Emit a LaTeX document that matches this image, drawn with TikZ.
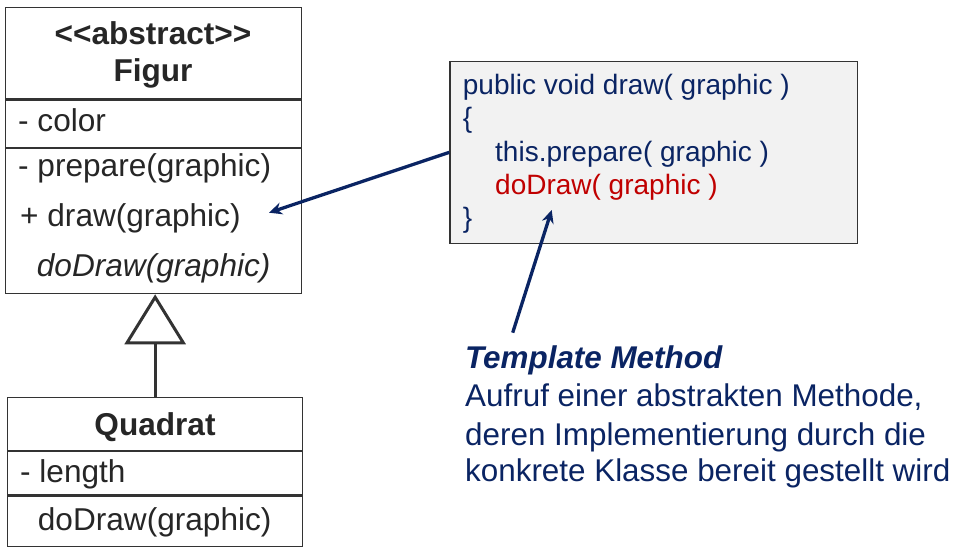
\documentclass[tikz,border=0pt]{standalone}
\usepackage{fontspec}
\setmainfont{Liberation Sans}
\usetikzlibrary{arrows.meta}
\definecolor{umltext}{HTML}{262626}
\definecolor{umlline}{HTML}{333333}
\definecolor{navy}{HTML}{0A2463}
\definecolor{codered}{HTML}{C00000}
\definecolor{codebg}{HTML}{F2F2F2}
\begin{document}
\begin{tikzpicture}[x=1pt,y=-1pt,
  box/.style={draw=umlline,line width=1.3pt,inner sep=0pt,anchor=north west},
  divider/.style={draw=umlline,line width=2.5pt},
  uml/.style={anchor=base west,inner sep=0pt,text=umltext,font=\fontsize{31.6}{37}\selectfont},
  umltitle/.style={anchor=base,inner sep=0pt,text=umltext,font=\bfseries\fontsize{31.6}{37}\selectfont},
  umlitalic/.style={uml,font=\itshape\fontsize{31.6}{37}\selectfont},
  code/.style={anchor=base west,inner sep=0pt,text=navy,font=\fontsize{28}{33}\selectfont},
  note/.style={anchor=base west,inner sep=0pt,text=navy,font=\fontsize{31.4}{37}\selectfont},
  notehead/.style={note,font=\bfseries\itshape\fontsize{31.4}{37}\selectfont},
  codebox/.style={draw=umlline,fill=codebg,line width=1.3pt,inner sep=0pt,anchor=north west},
  pointer/.style={draw=navy,line width=3.3pt,-{Stealth[length=13pt,width=12pt]}},
  inherit/.style={draw=umlline,line width=3pt,-{Triangle[open,length=50pt,width=61pt]}}]
\useasboundingbox (0,0) rectangle (958,559);

% Figur class
\node[box,minimum width=296pt,minimum height=286pt] (figur) at (5,7) {};
\draw[divider] (5,99.3) -- (301,99.3);
\draw[divider] (5,148) -- (301,148);
\node[umltitle] (figst) at (153,45) {<{}<abstract>{}>};
\node[umltitle] (figname) at (153,81.7) {Figur};
\node[uml] (figattr) at (18,131.7) {- color};
\node[uml] (figm1) at (18,176.7) {- prepare(graphic)};
\node[uml] (figm2) at (20,226.7) {+ draw(graphic)};
\node[umlitalic] (figm3) at (36.7,276.7) {doDraw(graphic)};

% Quadrat class
\node[box,minimum width=295pt,minimum height=149pt] (quadrat) at (7,397) {};
\draw[divider] (7,451) -- (302,451);
\draw[divider] (7,495.7) -- (302,495.7);
\node[umltitle] (qname) at (155,435) {Quadrat};
\node[uml] (qattr) at (20,482.7) {- length};
\node[uml] (qm1) at (37.7,530) {doDraw(graphic)};

% inheritance
\draw[inherit] (quadrat.north) -- (quadrat.north |- figur.south);

% code box
\node[codebox,minimum width=407.7pt,minimum height=182pt] (code) at (449.3,60.7) {};
\node[code] (l1) at (462.7,95) {public void draw( graphic )};
\node[code] (l2) at (462.7,128) {\{};
\node[code] (l3) at (495,161) {this.prepare( graphic )};
\node[code,text=codered] (l4) at (495,194) {doDraw( graphic )};
\node[code] (l5) at (462.7,227) {\}};

% note
\node[notehead] (tm) at (465,368) {Template Method};
\node[note] (n1) at (465,406.7) {Aufruf einer abstrakten Methode,};
\node[note] (n2) at (465,445) {deren Implementierung durch die};
\node[note] (n3) at (465,481.7) {konkrete Klasse bereit gestellt wird};

% pointers
\coordinate (drawtip) at (269,212.7);
\coordinate (tmstart) at (512.7,332.7);
\coordinate (dodrawtip) at (551.7,210);
\draw[pointer] (code.west) -- (drawtip);
\draw[pointer] (tmstart) -- (dodrawtip);
\end{tikzpicture}
\end{document}
